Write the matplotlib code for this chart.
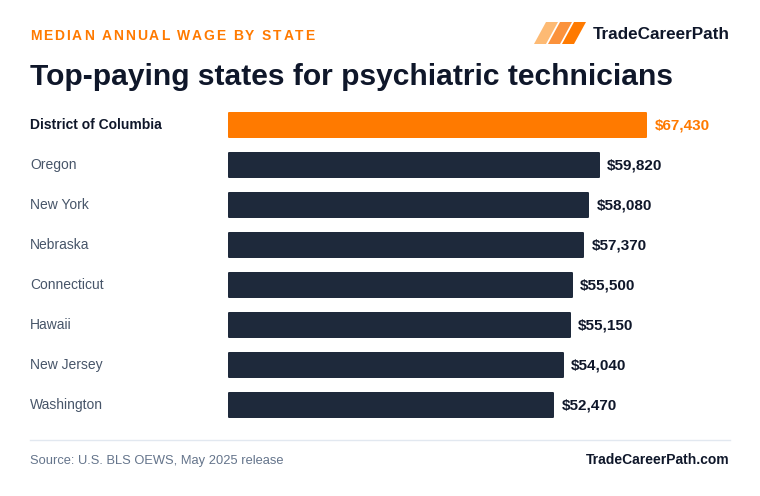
import matplotlib
matplotlib.use("Agg")
import matplotlib.pyplot as plt
from matplotlib.patches import Polygon
from matplotlib.font_manager import FontProperties

states = ["District of Columbia", "Oregon", "New York", "Nebraska",
          "Connecticut", "Hawaii", "New Jersey", "Washington"]
wages = [67430, 59820, 58080, 57370, 55500, 55150, 54040, 52470]
wage_labels = ["$67,430", "$59,820", "$58,080", "$57,370",
               "$55,500", "$55,150", "$54,040", "$52,470"]

eyebrow = "MEDIAN ANNUAL WAGE BY STATE"
title = "Top-paying states for psychiatric technicians"
brand = "TradeCareerPath"
source = "Source: U.S. BLS OEWS, May 2025 release"
site = "TradeCareerPath.com"

ORANGE = "#ff7a00"
NAVY = "#1e293b"
DARK = "#0f172a"
GRAY = "#475569"
FONT = "Liberation Sans"

W, H = 760, 496
fig = plt.figure(figsize=(W / 100, H / 100), dpi=100)
fig.patch.set_facecolor("white")
renderer = fig.canvas.get_renderer()

def fx(px):
    return px / W

def fy(py):
    return 1 - py / H

px_per_unit = (647 - 228) / 67430
ax_left, ax_right = 228, 740
xmax = (ax_right - ax_left) / px_per_unit
row_top, row_bot = 105, 425
ax = fig.add_axes([fx(ax_left), fy(row_bot), fx(ax_right - ax_left), (row_bot - row_top) / H])
ax.set_xlim(0, xmax)
n = len(states)
ax.set_ylim(n - 0.5, -0.5)
ax.axis("off")

colors = [ORANGE] + [NAVY] * (n - 1)
bar_h = 0.59
# 1 px of round-joined edge on each side gives the soft corners
edge_px = 1.0
edge_units = edge_px / px_per_unit
ax.barh(range(n), [v - 2 * edge_units for v in wages], height=bar_h,
        left=edge_units, color=colors, edgecolor=colors,
        linewidth=2 * edge_px * 72 / 100, joinstyle="round")
for i, (s, v, lab) in enumerate(zip(states, wages, wage_labels)):
    ax.text(v + 1200, i, lab, ha="left", va="center", fontsize=11,
            fontweight="bold", color=(ORANGE if i == 0 else DARK), family=FONT)
    ax.annotate(s, xy=(fx(30), i), xycoords=("figure fraction", "data"),
                ha="left", va="center", fontsize=10,
                fontweight=("bold" if i == 0 else "normal"),
                color=(DARK if i == 0 else GRAY), family=FONT)

# eyebrow with letter spacing
fp = FontProperties(family=FONT, weight="bold", size=10)
ref_w, _, _ = renderer.get_text_width_height_descent("x", fp, ismath=False)
x = 30
spacing = 1.88
for ch in eyebrow:
    if ch != " ":
        fig.text(fx(x), fy(40), ch, fontproperties=fp, color=ORANGE, ha="left", va="baseline")
    w, _, _ = renderer.get_text_width_height_descent(ch + "x", fp, ismath=False)
    x += (w - ref_w) + spacing

fig.text(fx(30), fy(85), title, fontsize=21.6, fontweight="bold", color=DARK,
         family=FONT, ha="left", va="baseline")

# logo
cols = ["#fdba74", "#fb923c", ORANGE]
for k, c in enumerate(cols):
    x0 = 534 + k * 14
    pts = [(x0, 44), (x0 + 12, 44), (x0 + 24, 22), (x0 + 12, 22)]
    fig.patches.append(Polygon([(fx(a), fy(b)) for a, b in pts], closed=True,
                               transform=fig.transFigure, facecolor=c, edgecolor="none"))
fig.text(fx(730), fy(39), brand, fontsize=12.3, fontweight="bold", color=DARK,
         family=FONT, ha="right", va="baseline")

# footer
fig.add_artist(plt.Line2D([fx(30), fx(730)], [fy(440), fy(440)], color="#e2e8f0", lw=1))
fig.text(fx(30), fy(464), source, fontsize=9.3, color="#64748b", family=FONT,
         ha="left", va="baseline")
fig.text(fx(730), fy(464), site, fontsize=10, fontweight="bold", color=DARK,
         family=FONT, ha="right", va="baseline")

fig.savefig("out.png", dpi=100, facecolor="white")
